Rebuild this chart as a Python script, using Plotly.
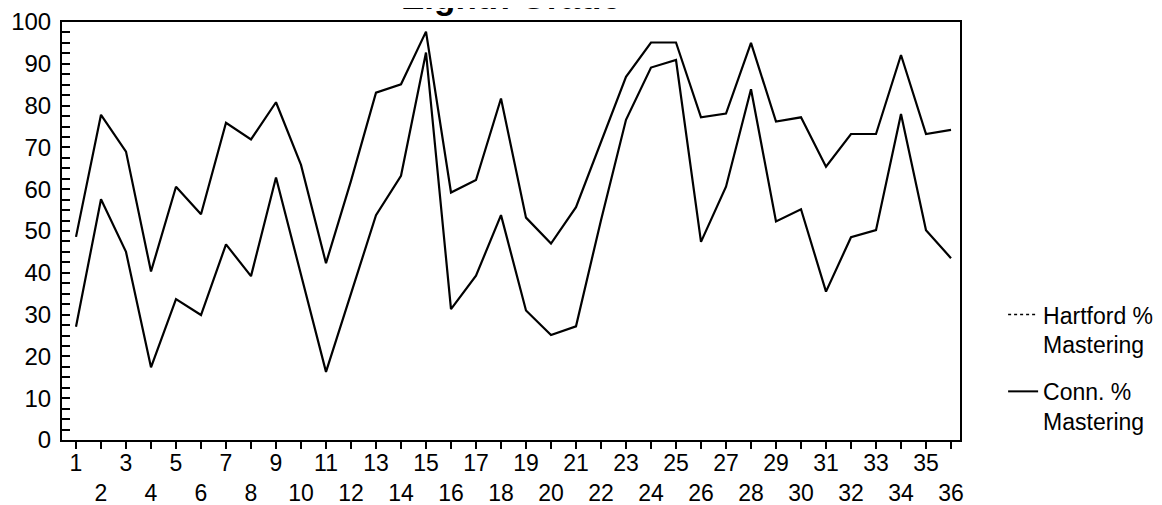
import plotly.graph_objects as go

categories = list(range(1, 37))
conn_pct = [48.6, 77.8, 69.0, 40.3, 60.6, 54.0, 75.9, 71.9, 80.8, 65.8, 42.3, 62.0,
            83.1, 85.1, 97.7, 59.2, 62.2, 81.7, 53.2, 47.0, 55.7, 71.5, 86.9, 95.1,
            95.1, 77.2, 78.1, 95.0, 76.2, 77.2, 65.4, 73.2, 73.2, 92.1, 73.2, 74.2]
hartford_pct = [27.1, 57.6, 45.0, 17.4, 33.7, 29.9, 46.8, 39.2, 62.8, 39.6, 16.3, 35.0,
                53.8, 63.2, 92.7, 31.3, 39.3, 53.8, 31.0, 25.1, 27.2, 52.6, 76.6, 89.1,
                90.9, 47.4, 60.6, 83.9, 52.3, 55.2, 35.5, 48.5, 50.2, 78.0, 50.2, 43.5]
tick_labels = [str(c) if c % 2 == 1 else "<br>" + str(c) for c in categories]
title_text = "Eighth Grade"
legend_names = ["Hartford %<br>Mastering", "Conn. %<br>Mastering"]

FONT = "Liberation Sans, Arial, sans-serif"

fig = go.Figure()
fig.add_trace(go.Scatter(x=categories, y=conn_pct, mode="lines",
                         line=dict(color="black", width=2.2), showlegend=False))
fig.add_trace(go.Scatter(x=categories, y=hartford_pct, mode="lines",
                         line=dict(color="black", width=2.2), showlegend=False))
# legend entries
fig.add_trace(go.Scatter(x=[None], y=[None], mode="lines", name=legend_names[0],
                         line=dict(color="black", width=1.5, dash="dot"), legendgroup="a"))
fig.add_trace(go.Scatter(x=[None], y=[None], mode="lines", name=legend_names[1],
                         line=dict(color="black", width=2), legendgroup="b"))

# page body has an 8px margin, so the figure is sized to fill the rest of the window
fig.update_layout(
    width=1154, height=497,
    margin=dict(l=54, r=202, t=14, b=65, pad=0, autoexpand=False),
    paper_bgcolor="white", plot_bgcolor="white",
    font=dict(family=FONT, color="black", size=22),
    showlegend=True,
    legend=dict(x=1.048, xanchor="left", y=0.172, yanchor="middle",
                font=dict(size=23, family=FONT), valign="top",
                tracegroupgap=14, bgcolor="rgba(0,0,0,0)", itemwidth=30),
    annotations=[dict(text="<b>" + title_text + "</b>", xref="paper", yref="paper",
                      x=0.5, y=1.010, xanchor="center", yanchor="bottom",
                      showarrow=False, font=dict(size=35, family=FONT))],
)

fig.update_xaxes(range=[0.44, 36.36], tickmode="array", tickvals=categories,
                 ticktext=tick_labels, ticks="outside", ticklen=7, tickwidth=1.5,
                 tickcolor="black", showline=True, linecolor="black", linewidth=2,
                 mirror=True, showgrid=False, zeroline=False, automargin=False,
                 tickfont=dict(size=23), tickangle=0, ticklabelstandoff=-6)
fig.update_yaxes(range=[0, 100], tickmode="linear", tick0=0, dtick=10,
                 ticks="inside", ticklen=8, tickwidth=1.5, tickcolor="black",
                 minor=dict(tickmode="linear", tick0=0, dtick=2.5, ticks="inside",
                            ticklen=8, tickwidth=1.5, tickcolor="black", showgrid=False),
                 showline=True, linecolor="black", linewidth=2, mirror=True,
                 showgrid=False, zeroline=False, automargin=False,
                 tickfont=dict(size=24), ticklabelstandoff=4)

fig.write_html("out.html")
